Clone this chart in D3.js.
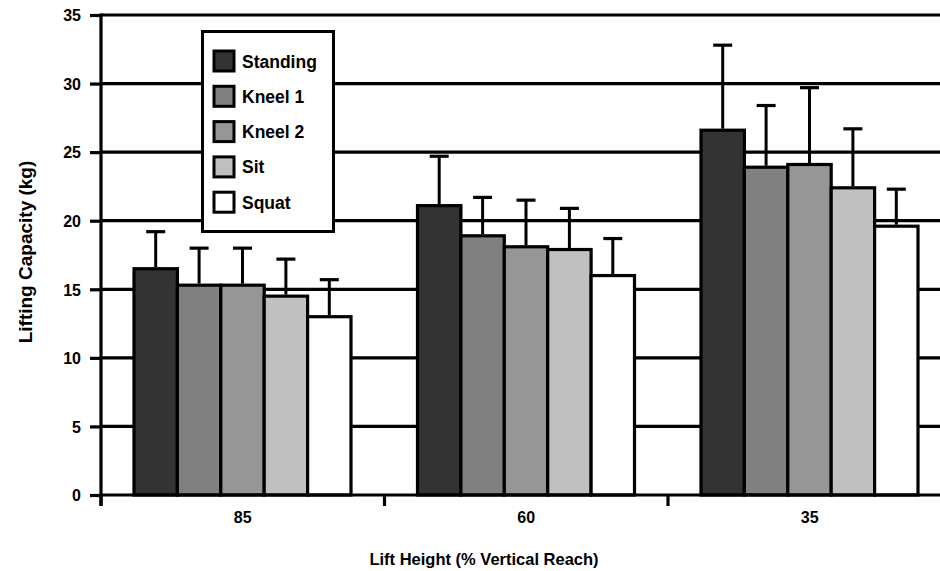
<!DOCTYPE html>
<html>
<head>
<meta charset="utf-8">
<script src="https://cdn.jsdelivr.net/npm/d3@7"></script>
<style>
  html, body { margin: 0; padding: 0; background: #fff; }
  svg { display: block; font-family: "Liberation Sans", Arial, sans-serif; font-weight: bold; }
</style>
</head>
<body>
<svg id="chart" width="940" height="571"></svg>
<script>
// ---- data ----
const categories = ["85", "60", "35"];
const series = ["Standing", "Kneel 1", "Kneel 2", "Sit", "Squat"];
const colors = ["#333333", "#808080", "#969696", "#c0c0c0", "#ffffff"];
const standing = [16.5, 21.1, 26.6];
const kneel1   = [15.3, 18.9, 23.9];
const kneel2   = [15.3, 18.1, 24.1];
const sit      = [14.5, 17.9, 22.4];
const squat    = [13.0, 16.0, 19.6];
const standingErr = [2.7, 3.6, 6.2];
const kneel1Err   = [2.7, 2.8, 4.5];
const kneel2Err   = [2.7, 3.4, 5.6];
const sitErr      = [2.7, 3.0, 4.3];
const squatErr    = [2.7, 2.7, 2.7];
const yTicks = [0, 5, 10, 15, 20, 25, 30, 35];

const values = [standing, kneel1, kneel2, sit, squat];
const errs = [standingErr, kneel1Err, kneel2Err, sitErr, squatErr];

// ---- layout ----
const svg = d3.select("#chart");
const x0 = 101, y0 = 495, yTop = 15;
const bandW = 283.5;
const x = d3.scaleBand().domain(categories).range([x0, x0 + bandW * categories.length]).padding(0);
const xs = d3.scaleBand().domain(series).range([33, 250]).padding(0);
const y = d3.scaleLinear().domain([0, 35]).range([y0, yTop]);

// gridlines
svg.append("g").selectAll("line").data(yTicks.filter(d => d > 0)).join("line")
  .attr("x1", x0).attr("x2", 940)
  .attr("y1", d => y(d)).attr("y2", d => y(d))
  .attr("stroke", "#000").attr("stroke-width", 3.2);

// legend box (drawn over gridlines, under nothing else)
const lg = svg.append("g");
lg.append("rect").attr("x", 202.5).attr("y", 31.5).attr("width", 131).attr("height", 200)
  .attr("fill", "#fff").attr("stroke", "#000").attr("stroke-width", 3);
series.forEach((s, i) => {
  const yy = 51 + i * 35.3;
  lg.append("rect").attr("x", 214).attr("y", yy).attr("width", 20).attr("height", 20)
    .attr("fill", colors[i]).attr("stroke", "#000").attr("stroke-width", 3);
  lg.append("text").attr("x", 242).attr("y", yy + 16.5).attr("font-size", 17.5)
    .attr("fill", "#000").text(s);
});

// bars
const groups = svg.append("g").selectAll("g").data(categories).join("g")
  .attr("transform", d => `translate(${x(d)},0)`);
series.forEach((s, si) => {
  groups.append("rect")
    .attr("x", xs(s)).attr("width", xs.bandwidth())
    .attr("y", (d, ci) => y(values[si][ci]))
    .attr("height", (d, ci) => y0 - y(values[si][ci]))
    .attr("fill", colors[si]).attr("stroke", "#000").attr("stroke-width", 3.2);
  // error bars (upper only)
  const cx = xs(s) + xs.bandwidth() / 2;
  groups.append("line")
    .attr("x1", cx).attr("x2", cx)
    .attr("y1", (d, ci) => y(values[si][ci]) - 1.5)
    .attr("y2", (d, ci) => y(values[si][ci] + errs[si][ci]))
    .attr("stroke", "#000").attr("stroke-width", 3);
  groups.append("line")
    .attr("x1", cx - 9.5).attr("x2", cx + 9.5)
    .attr("y1", (d, ci) => y(values[si][ci] + errs[si][ci]))
    .attr("y2", (d, ci) => y(values[si][ci] + errs[si][ci]))
    .attr("stroke", "#000").attr("stroke-width", 3.2);
});

// y axis
const yAxis = svg.append("g").attr("transform", `translate(${x0},0)`)
  .call(d3.axisLeft(y).tickValues(yTicks).tickSize(11).tickPadding(9).tickFormat(d3.format("d")));
yAxis.select(".domain").attr("d", `M0,${yTop - 1.5}V${y0 + 11}`).attr("stroke-width", 3.2);
yAxis.selectAll(".tick line").attr("stroke-width", 3.2);
yAxis.selectAll("text").attr("font-size", 16).attr("font-family", "Liberation Sans, Arial, sans-serif")
  .attr("font-weight", "bold").attr("fill", "#000").attr("dy", "0.36em");

// x axis
const xAxis = svg.append("g").attr("transform", `translate(0,${y0})`);
xAxis.append("line").attr("x1", x0 - 1.5).attr("x2", 940).attr("y1", 0).attr("y2", 0)
  .attr("stroke", "#000").attr("stroke-width", 3.2);
xAxis.selectAll("line.tk").data(categories).join("line").attr("class", "tk")
  .attr("x1", d => x(d)).attr("x2", d => x(d)).attr("y1", 0).attr("y2", 11)
  .attr("stroke", "#000").attr("stroke-width", 3.2);
xAxis.selectAll("text").data(categories).join("text")
  .attr("x", d => x(d) + x.bandwidth() / 2).attr("y", 28)
  .attr("text-anchor", "middle").attr("font-size", 16).attr("fill", "#000").text(d => d);

// axis titles
svg.append("text").attr("x", 484).attr("y", 565).attr("text-anchor", "middle")
  .attr("font-size", 16.5).attr("fill", "#000").text("Lift Height (% Vertical Reach)");
svg.append("text").attr("transform", "translate(32,252) rotate(-90)").attr("text-anchor", "middle")
  .attr("font-size", 19).attr("fill", "#000").text("Lifting Capacity (kg)");
</script>
</body>
</html>
